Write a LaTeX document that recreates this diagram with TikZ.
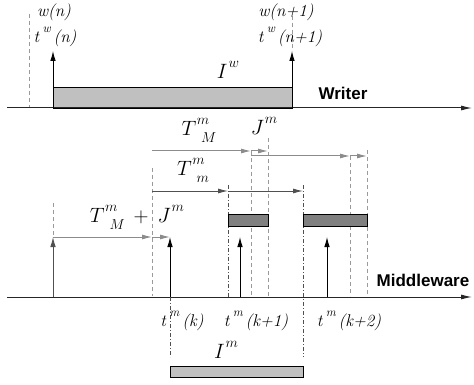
\documentclass[tikz,border=0pt]{standalone}
\usepackage{fontspec}
\newfontfamily\labelsans{Liberation Sans}
\usetikzlibrary{arrows.meta}
\definecolor{garrow}{HTML}{8C8C8C}
\definecolor{darrow}{HTML}{505050}
\definecolor{gdash}{HTML}{9A9A9A}
\definecolor{boxlight}{HTML}{C0C0C0}
\definecolor{boxdark}{HTML}{808080}
\newcommand{\supr}[1]{\raisebox{0.6em}{\fontsize{12.5}{13}\selectfont\itshape #1}}
\newcommand{\msup}[3]{$#1$\hspace{0.5pt}\raisebox{0.55em}{\fontsize{13.5}{14}\selectfont$#2$}\hspace{-8pt}\raisebox{-0.35em}{\fontsize{13.5}{14}\selectfont$#3$}}
\newcommand{\msp}[2]{$#1$\hspace{1pt}\raisebox{0.55em}{\fontsize{13.5}{14}\selectfont$#2$}}
\tikzset{
  axisline/.style={line width=1pt, color=black!85, -{Latex[length=11pt,width=5pt]}},
  tick/.style={line width=0.9pt, -{Latex[length=10pt,width=5.5pt]}},
  garr/.style={garrow, line width=1pt, -{Latex[length=10pt,width=5pt]}},
  darr/.style={darrow, line width=0.9pt, -{Latex[length=10pt,width=5pt]}},
  gdashed/.style={gdash, dash pattern=on 4pt off 3pt, line width=0.8pt},
  dashdot/.style={darrow, dash pattern=on 4pt off 2pt on 1pt off 2pt, line width=0.6pt},
  lightbox/.style={draw=black, line width=0.9pt, fill=boxlight, inner sep=0, outer sep=0},
  darkbox/.style={draw=black, line width=0.9pt, fill=boxdark, inner sep=0, outer sep=0},
  lab/.style={font=\fontsize{17}{19}\selectfont, inner sep=0},
  mlab/.style={font=\fontsize{20}{22}\selectfont, inner sep=0},
  title/.style={font=\labelsans\bfseries\fontsize{17}{19}\selectfont, inner sep=0}
}
\begin{document}
\begin{tikzpicture}[x=1pt,y=-1pt]
\useasboundingbox (0,0) rectangle (474,385);
% ---------------- Writer ----------------
\coordinate (wA0) at (7,108);
\coordinate (wA1) at (472,108);
\node[lightbox, minimum width=239pt, minimum height=21pt, anchor=south west] (Iwbox) at (53,108) {};
\draw[axisline] (wA0) -- (wA1);
\coordinate (twn) at (53,51);
\coordinate (twn1) at (292,51);
\draw[tick] (Iwbox.south west) -- (twn);
\draw[tick] (Iwbox.south east) -- (twn1);
\coordinate (wd0a) at (29,14);
\coordinate (wd0b) at (29,107);
\draw[gdashed] (wd0a) -- (wd0b);
\coordinate (wd1a) at (292,16);
\draw[gdashed] (wd1a) -- (twn1);
\node[lab] (lwn) at (54,12) {\textit{w(n)}};
\node[lab] (ltwn) at (55,37) {\textit{t}\,\supr{w}\,\textit{(n)}};
\node[lab] (lwn1) at (286,12) {\textit{w(n+1)}};
\node[lab] (ltwn1) at (290,37) {\textit{t}\,\supr{w}\,\textit{(n+1)}};
\node[mlab] (lIw) at (228,70) {\msp{I}{w}};
\node[title] (writer) at (343,93) {Writer};
% ---------------- Middleware ----------------
\coordinate (mA0) at (7,297);
\coordinate (mA1) at (472,297);
\draw[axisline] (mA0) -- (mA1);
% vertical dashed lines
\coordinate (d1a) at (53,203);  \coordinate (d1b) at (53,237);
\coordinate (d2a) at (152,168); \coordinate (d2b) at (152,296);
\coordinate (d3a) at (251,151); \coordinate (d3b) at (251,296);
\coordinate (d4a) at (268,138); \coordinate (d4b) at (268,296);
\coordinate (d5a) at (350,156); \coordinate (d5b) at (350,296);
\coordinate (d6a) at (367,150); \coordinate (d6b) at (367,296);
\foreach \i in {1,...,6} \draw[gdashed] (d\i a) -- (d\i b);
% dash-dot lines
\coordinate (e1a) at (228,185); \coordinate (e1b) at (228,297);
\coordinate (e2a) at (303,185); \coordinate (e2b) at (303,357);
\coordinate (e3a) at (170,297); \coordinate (e3b) at (170,357);
\foreach \i in {1,2,3} \draw[dashdot] (e\i a) -- (e\i b);
% dark boxes
\node[darkbox, minimum width=40pt, minimum height=12pt, anchor=north west] (b1) at (228,214) {};
\node[darkbox, minimum width=64pt, minimum height=12pt, anchor=north west] (b2) at (303,214) {};
% vertical arrows
\coordinate (v0a) at (53,297);  \coordinate (v0b) at (53,237);
\coordinate (v1a) at (170,297); \coordinate (v1b) at (170,237);
\coordinate (v2a) at (240,297); \coordinate (v2b) at (240,237);
\coordinate (v3a) at (327,297); \coordinate (v3b) at (327,237);
\draw[tick, darrow] (v0a) -- (v0b);
\foreach \i in {1,2,3} \draw[tick] (v\i a) -- (v\i b);
% horizontal arrows
\coordinate (h1a) at (152,151); \coordinate (h1b) at (251,151); \coordinate (h1c) at (268,151);
\draw[garr] (h1a) -- (h1b);
\draw[garr] (h1b) -- (h1c);
\coordinate (h2a) at (251,156); \coordinate (h2b) at (350,156); \coordinate (h2c) at (367,156);
\draw[garr] (h2a) -- (h2b);
\draw[garr] (h2b) -- (h2c);
\coordinate (h3a) at (152,191); \coordinate (h3b) at (228,191); \coordinate (h3c) at (303,191);
\draw[darr] (h3a) -- (h3b);
\draw[darr] (h3b) -- (h3c);
\coordinate (h4a) at (53,237); \coordinate (h4b) at (152,237); \coordinate (h4c) at (170,237);
\draw[garr] (h4a) -- (h4b);
\draw[garr] (h4b) -- (h4c);
% labels
\node[mlab] (lTM) at (199,130) {\msup{T}{m}{M}};
\node[mlab] (lJ) at (264,126) {\msp{J}{m}};
\node[mlab] (lTm) at (193,170) {\msup{T}{m}{m}};
\node[mlab] (lTMJ) at (137,217) {\msup{T}{m}{M}\hspace{9pt}$+$\hspace{9pt}\msp{J}{m}};
\node[lab] (ltk) at (182,321) {\textit{t}\,\supr{m}\,\textit{(k)}};
\node[lab] (ltk1) at (256,321) {\textit{t}\,\supr{m}\,\textit{(k+1)}};
\node[lab] (ltk2) at (349,321) {\textit{t}\,\supr{m}\,\textit{(k+2)}};
\node[mlab] (lIm) at (226,350) {\msp{I}{m}};
\node[title] (mw) at (423,280) {Middleware};
\node[lightbox, minimum width=133pt, minimum height=11pt, anchor=north west] (Imbox) at (170,366) {};
\end{tikzpicture}
\end{document}
